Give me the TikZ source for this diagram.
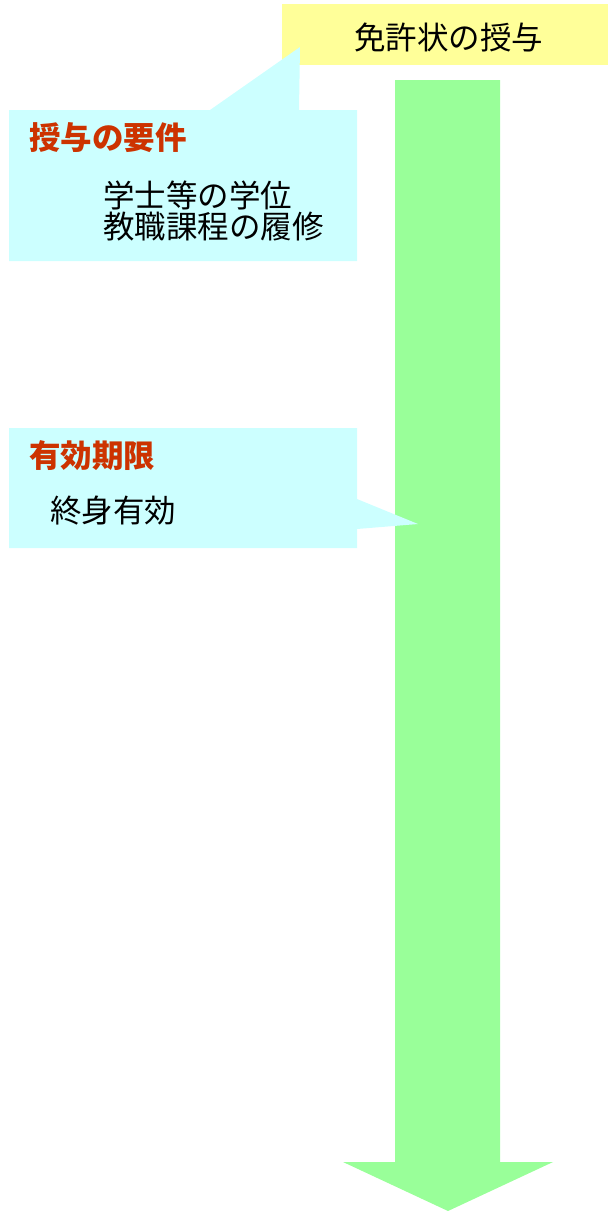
\documentclass[tikz,border=0pt]{standalone}
\usepackage{fontspec}
\newfontfamily\cjk{Noto Sans CJK JP}
\definecolor{yel}{HTML}{FFFF99}
\definecolor{cya}{HTML}{CCFFFF}
\definecolor{grn}{HTML}{99FF99}
\definecolor{ttl}{HTML}{CC3300}
\begin{document}
\begin{tikzpicture}[x=1pt,y=-1pt,
  txt/.style={inner sep=0pt,anchor=west,font=\cjk\fontsize{31.5}{38}\selectfont},
  ttltxt/.style={txt,text=ttl,font=\cjk\bfseries\fontsize{31.5}{38}\selectfont}]
\useasboundingbox (0,0) rectangle (608,1211);
% yellow heading box
\fill[yel] (282,4) rectangle (608,65);
\node[txt] (head) at (354,37) {免許状の授与};
% green arrow
\fill[grn] (395,80) -- (500,80) -- (500,1162) -- (553,1162) -- (448,1211) -- (343,1162) -- (395,1162) -- cycle;
% callout 1
\fill[cya] (9,110) -- (210,110) -- (300,47) -- (299,110) -- (357,110) -- (357,261) -- (9,261) -- cycle;
\node[ttltxt] (t1) at (29,138) {授与の要件};
\node[txt] (l1) at (103,195) {学士等の学位};
\node[txt] (l2) at (103,227) {教職課程の履修};
% callout 2
\fill[cya] (9,428) -- (357,428) -- (357,499) -- (418,524) -- (357,529) -- (357,548) -- (9,548) -- cycle;
\node[ttltxt] (t2) at (29,456) {有効期限};
\node[txt] (l3) at (50,511) {終身有効};
\end{tikzpicture}
\end{document}
